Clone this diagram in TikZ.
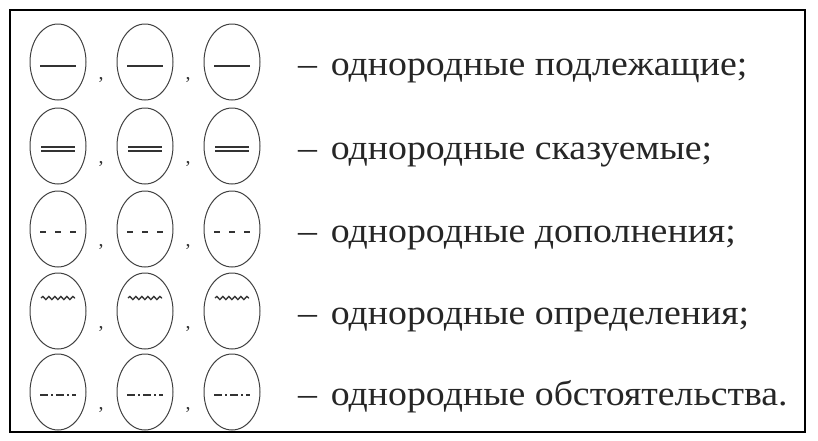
\documentclass[tikz,border=0pt]{standalone}
\usepackage{fontspec}
\setmainfont{Liberation Serif}
\usetikzlibrary{shapes.geometric,decorations.pathmorphing}

\tikzset{
    member/.style={ellipse, draw=black!75, line width=1pt, minimum width=56pt, minimum height=76pt, inner sep=0pt},
    sep/.style={font=\fontsize{20}{20}\selectfont, text=black!80, inner sep=0pt},
    kind/.style={anchor=base west, font=\fontsize{35}{40}\selectfont, text=black!85, inner sep=0pt, xscale=1.08},
    underline/.style={line width=1.3pt, draw=black!80}
}

\begin{document}
\begin{tikzpicture}[x=1pt, y=-1pt]

    % the frame
    \useasboundingbox (0, 0) rectangle (818, 440);
    \draw[line width=2pt] (10, 10) rectangle (805, 432);

    % the ovals and commas
    \foreach \r/\y/\txt in {1/62/{подлежащие;}, 2/146/{сказуемые;}, 3/229/{дополнения;}, 4/311/{определения;}, 5/392/{обстоятельства.}} {
        \foreach \c/\x in {1/58, 2/145, 3/232} {
            \node[member] (o\r-\c) at (\x, \y) {};
        };
        \node[sep] (c\r-1) at (101, \y + 18) {,};
        \node[sep] (c\r-2) at (188, \y + 18) {,};
        \node[kind] (t\r) at (298, \y + 13) {–\hspace{4pt} однородные \txt};
    };

    % the marks
    \foreach \c in {1,2,3} {
        % subject
        \draw[underline] ([xshift=-18pt, yshift=-4pt]o1-\c.center) -- ([xshift=18pt, yshift=-4pt]o1-\c.center);
        % predicate
        \draw[underline, line width=2.2pt] ([xshift=-17pt, yshift=-1pt]o2-\c.center) -- ([xshift=17pt, yshift=-1pt]o2-\c.center);
        \draw[underline, line width=2.2pt] ([xshift=-17pt, yshift=-5pt]o2-\c.center) -- ([xshift=17pt, yshift=-5pt]o2-\c.center);
        % object
        \draw[underline, line width=2pt, dash pattern=on 6pt off 9pt] ([xshift=-18pt, yshift=-3pt]o3-\c.center) -- ([xshift=18pt, yshift=-3pt]o3-\c.center);
        % attribute
        \draw[underline, decorate, decoration={snake, amplitude=1.6pt, segment length=6pt}] ([xshift=-17pt, yshift=13pt]o4-\c.center) -- ([xshift=17pt, yshift=13pt]o4-\c.center);
        % adverbial
        \draw[underline, line width=1.8pt, dash pattern=on 8pt off 3pt on 2pt off 3pt] ([xshift=-18pt, yshift=-3pt]o5-\c.center) -- ([xshift=18pt, yshift=-3pt]o5-\c.center);
    };

\end{tikzpicture}
\end{document}
